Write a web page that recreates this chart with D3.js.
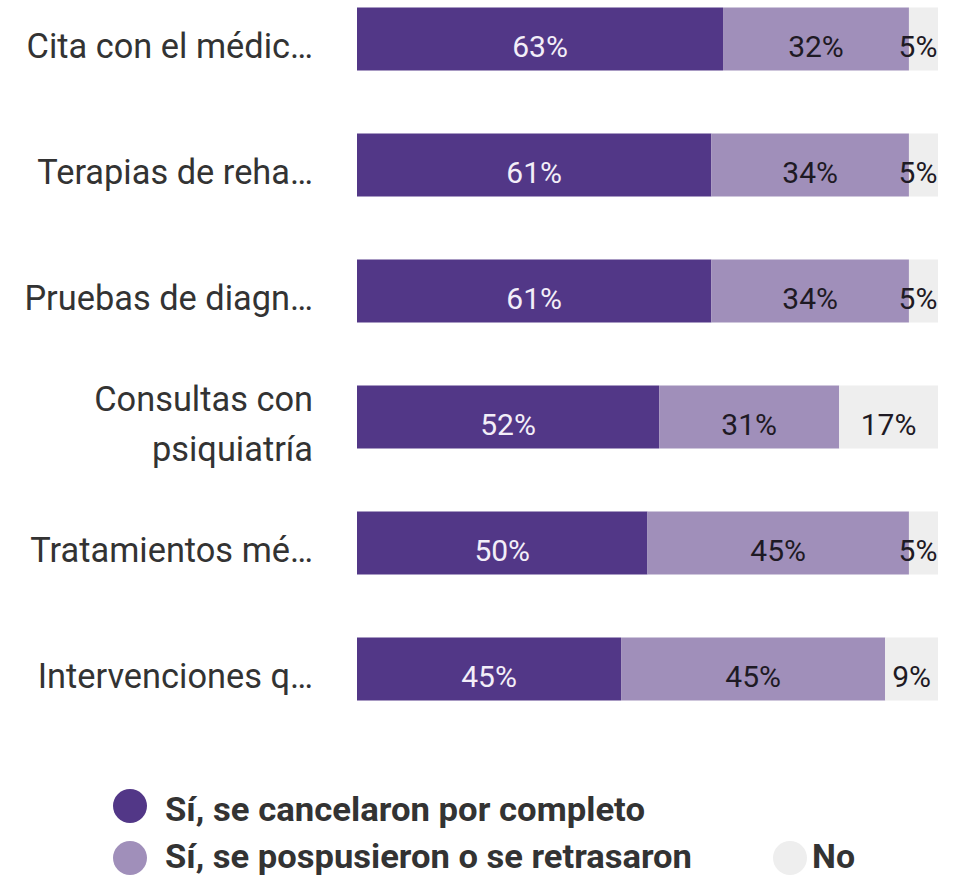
<!DOCTYPE html>
<html><head><meta charset="utf-8">
<script src="https://cdn.jsdelivr.net/npm/d3@7"></script>
<style>body{margin:0;background:#fff;} svg{display:block;font-family:Roboto, "Noto Sans", sans-serif;}</style>
</head><body>
<svg id="chart" width="954" height="880"></svg>
<script>
const categories = ["Cita con el médic…","Terapias de reha…","Pruebas de diagn…","Consultas con psiquiatría","Tratamientos mé…","Intervenciones q…"];
const seriesNames = ["Sí, se cancelaron por completo","Sí, se pospusieron o se retrasaron","No"];
const cancelled = [63,61,61,52,50,45];
const postponed = [32,34,34,31,45,45];
const noValues  = [5,5,5,17,5,9];
const colors = ["#523787","#a08fba","#eeeeee"];
const textColors = ["#f3eef8","#1e1a24","#1e1a24"];

const rows = categories.map((c,i)=>({cat:c, s0:cancelled[i], s1:postponed[i], s2:noValues[i]}));
const keys = ["s0","s1","s2"];
const stack = d3.stack().keys(keys).offset(d3.stackOffsetExpand);
const series = stack(rows);

const svg = d3.select("#chart");
const x = d3.scaleLinear().domain([0,1]).range([357,938]);
const y = d3.scaleBand().domain(categories).range([-24,732]).paddingInner(0.5).paddingOuter(0.25);

const g = svg.append("g");
series.forEach((s,si)=>{
  g.append("g").selectAll("rect").data(s).join("rect")
    .attr("x",d=>x(d[0])).attr("width",d=>x(d[1])-x(d[0]))
    .attr("y",d=>y(d.data.cat)).attr("height",y.bandwidth())
    .attr("fill",colors[si]);
});
series.forEach((s,si)=>{
  g.append("g").selectAll("text").data(s).join("text")
    .attr("x",d=>Math.min((x(d[0])+x(d[1]))/2, 918))
    .attr("y",d=>y(d.data.cat)+y.bandwidth()/2+7)
    .attr("dy","0.36em")
    .attr("text-anchor","middle")
    .attr("font-size",30)
    .attr("fill",textColors[si])
    .text(d=>d.data[keys[si]]+"%");
});

// category labels with wrapping
const LX = 313, LFS = 36;
const labelG = svg.append("g").attr("transform",`translate(${LX},0) scale(0.955,1) translate(${-LX},0)`);
categories.forEach(c=>{
  const cy = y(c)+y.bandwidth()/2+6;
  const t = labelG.append("text").attr("x",LX).attr("text-anchor","end")
    .attr("font-size",LFS).attr("fill","#333").text(c);
  const maxW = 320;
  if (t.node().getComputedTextLength() > maxW) {
    const words = c.split(" ");
    const lines = []; let line = [];
    t.text("");
    const probe = labelG.append("text").attr("font-size",LFS);
    words.forEach(w=>{
      const test = line.concat([w]).join(" ");
      probe.text(test);
      if (probe.node().getComputedTextLength() > maxW && line.length) { lines.push(line.join(" ")); line=[w]; }
      else line.push(w);
    });
    lines.push(line.join(" "));
    probe.remove();
    const lh = 50;
    lines.forEach((l,i)=>{
      t.append("tspan").attr("x",LX).attr("y",cy + (i-(lines.length-1)/2)*lh).attr("dy","0.36em").text(l);
    });
  } else {
    t.attr("y",cy).attr("dy","0.36em");
  }
});

// legend
const legendItems = [
  {name:seriesNames[0], color:colors[0], cx:130, cy:806, ty:809, tx:165, w:480},
  {name:seriesNames[1], color:colors[1], cx:130, cy:858, ty:856, tx:165, w:527},
  {name:seriesNames[2], color:colors[2], cx:790, cy:858, ty:856, tx:812, w:43}
];
const lg = svg.append("g");
legendItems.forEach(it=>{
  lg.append("circle").attr("cx",it.cx).attr("cy",it.cy).attr("r",17).attr("fill",it.color);
  lg.append("text").attr("x",it.tx).attr("y",it.ty).attr("dy","0.36em")
    .attr("font-size",33).attr("font-weight","bold").attr("fill","#333")
    .attr("textLength",it.w).attr("lengthAdjust","spacingAndGlyphs").text(it.name);
});
</script>
</body></html>
